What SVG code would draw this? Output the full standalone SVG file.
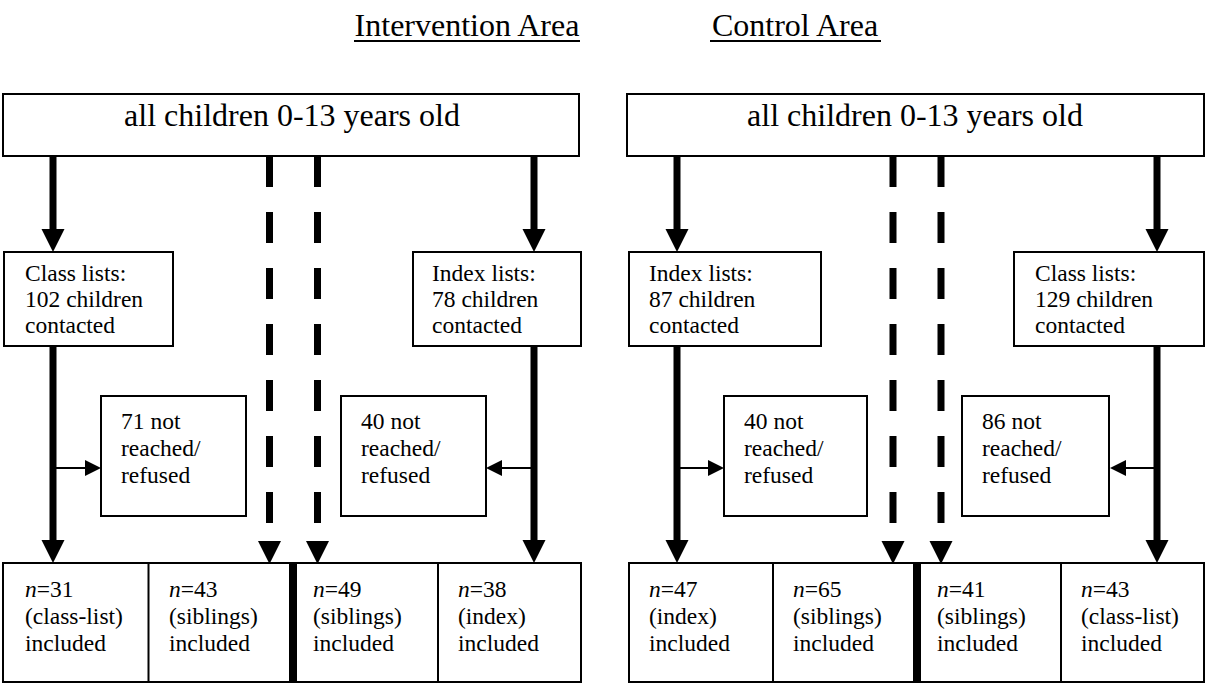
<svg xmlns="http://www.w3.org/2000/svg" width="1206" height="684" viewBox="0 0 1206 684" font-family="'Liberation Serif', 'Times New Roman', Times, serif">
<style>
text{fill:#000}
.h{font-size:32px}
.t{font-size:32px}
.s{font-size:23.5px}
.box{fill:#fff;stroke:#000;stroke-width:2}
.thick{stroke:#000;stroke-width:7;fill:none}
.dash{stroke:#000;stroke-width:7;fill:none;stroke-dasharray:31 25}
.thin{stroke:#000;stroke-width:2;fill:none}
</style>
<defs>
<marker id="big" markerUnits="userSpaceOnUse" markerWidth="24" markerHeight="24" refX="0" refY="11.5" orient="auto" viewBox="0 0 24 24"><path d="M0,0 L23,11.5 L0,23 z" fill="#000"/></marker>
<marker id="small" markerUnits="userSpaceOnUse" markerWidth="17" markerHeight="17" refX="0" refY="8" orient="auto" viewBox="0 0 17 17"><path d="M0,0 L16,8 L0,16 z" fill="#000"/></marker>
</defs>
<g id="headings">
<text class="h" x="467" y="36" text-anchor="middle">Intervention Area</text>
<line x1="354" y1="41" x2="580" y2="41" class="thin"/>
<text class="h" x="795" y="36" text-anchor="middle">Control Area</text>
<line x1="710" y1="41" x2="881" y2="41" class="thin"/>
</g>
<g id="connectors">
<line x1="53" y1="156" x2="53" y2="229" class="thick" marker-end="url(#big)"/>
<line x1="534" y1="156" x2="534" y2="229" class="thick" marker-end="url(#big)"/>
<line x1="269.5" y1="156" x2="269.5" y2="541" class="dash" marker-end="url(#big)"/>
<line x1="317.5" y1="156" x2="317.5" y2="541" class="dash" marker-end="url(#big)"/>
<line x1="53" y1="346" x2="53" y2="540" class="thick" marker-end="url(#big)"/>
<line x1="534" y1="346" x2="534" y2="540" class="thick" marker-end="url(#big)"/>
<line x1="56" y1="468" x2="85" y2="468" class="thin" marker-end="url(#small)"/>
<line x1="531" y1="468" x2="502" y2="468" class="thin" marker-end="url(#small)"/>
<line x1="677" y1="156" x2="677" y2="229" class="thick" marker-end="url(#big)"/>
<line x1="1157" y1="156" x2="1157" y2="229" class="thick" marker-end="url(#big)"/>
<line x1="893" y1="156" x2="893" y2="541" class="dash" marker-end="url(#big)"/>
<line x1="941" y1="156" x2="941" y2="541" class="dash" marker-end="url(#big)"/>
<line x1="677" y1="346" x2="677" y2="540" class="thick" marker-end="url(#big)"/>
<line x1="1157" y1="346" x2="1157" y2="540" class="thick" marker-end="url(#big)"/>
<line x1="680" y1="468" x2="708" y2="468" class="thin" marker-end="url(#small)"/>
<line x1="1154" y1="468" x2="1126" y2="468" class="thin" marker-end="url(#small)"/>
</g>
<g id="int-all">
<rect class="box" x="3" y="94" width="576" height="62"/>
<text class="t" x="292" y="126" text-anchor="middle">all children 0-13 years old</text>
</g>
<g id="int-class">
<rect class="box" x="4" y="252" width="169" height="94"/>
<text class="s" x="25" y="281">Class lists:</text>
<text class="s" x="25" y="307">102 children</text>
<text class="s" x="25" y="333">contacted</text>
</g>
<g id="int-index">
<rect class="box" x="413" y="252" width="168" height="94"/>
<text class="s" x="432" y="281">Index lists:</text>
<text class="s" x="432" y="307">78 children</text>
<text class="s" x="432" y="333">contacted</text>
</g>
<g id="int-class-lost">
<rect class="box" x="101" y="396" width="145" height="120"/>
<text class="s" x="121" y="429">71 not</text>
<text class="s" x="121" y="456">reached/</text>
<text class="s" x="121" y="483">refused</text>
</g>
<g id="int-index-lost">
<rect class="box" x="341" y="396" width="145" height="120"/>
<text class="s" x="361" y="429">40 not</text>
<text class="s" x="361" y="456">reached/</text>
<text class="s" x="361" y="483">refused</text>
</g>
<g id="int-included">
<rect class="box" x="3" y="563" width="578" height="119"/>
<line x1="148.5" y1="563" x2="148.5" y2="682" class="thin"/>
<rect x="289" y="563" width="8" height="119" fill="#000"/>
<line x1="438" y1="563" x2="438" y2="682" class="thin"/>
<text class="s" x="25" y="597"><tspan font-style="italic">n</tspan>=31</text>
<text class="s" x="25" y="624">(class-list)</text>
<text class="s" x="25" y="651">included</text>
<text class="s" x="169" y="597"><tspan font-style="italic">n</tspan>=43</text>
<text class="s" x="169" y="624">(siblings)</text>
<text class="s" x="169" y="651">included</text>
<text class="s" x="313" y="597"><tspan font-style="italic">n</tspan>=49</text>
<text class="s" x="313" y="624">(siblings)</text>
<text class="s" x="313" y="651">included</text>
<text class="s" x="458" y="597"><tspan font-style="italic">n</tspan>=38</text>
<text class="s" x="458" y="624">(index)</text>
<text class="s" x="458" y="651">included</text>
</g>
<g id="ctl-all">
<rect class="box" x="627" y="94" width="577" height="62"/>
<text class="t" x="915" y="126" text-anchor="middle">all children 0-13 years old</text>
</g>
<g id="ctl-index">
<rect class="box" x="629" y="252" width="192" height="94"/>
<text class="s" x="649" y="281">Index lists:</text>
<text class="s" x="649" y="307">87 children</text>
<text class="s" x="649" y="333">contacted</text>
</g>
<g id="ctl-class">
<rect class="box" x="1014" y="252" width="190" height="94"/>
<text class="s" x="1035" y="281">Class lists:</text>
<text class="s" x="1035" y="307">129 children</text>
<text class="s" x="1035" y="333">contacted</text>
</g>
<g id="ctl-index-lost">
<rect class="box" x="724" y="396" width="143" height="120"/>
<text class="s" x="744" y="429">40 not</text>
<text class="s" x="744" y="456">reached/</text>
<text class="s" x="744" y="483">refused</text>
</g>
<g id="ctl-class-lost">
<rect class="box" x="962" y="396" width="147" height="120"/>
<text class="s" x="982" y="429">86 not</text>
<text class="s" x="982" y="456">reached/</text>
<text class="s" x="982" y="483">refused</text>
</g>
<g id="ctl-included">
<rect class="box" x="629" y="563" width="575" height="119"/>
<line x1="773" y1="563" x2="773" y2="682" class="thin"/>
<rect x="913" y="563" width="8" height="119" fill="#000"/>
<line x1="1061" y1="563" x2="1061" y2="682" class="thin"/>
<text class="s" x="649" y="597"><tspan font-style="italic">n</tspan>=47</text>
<text class="s" x="649" y="624">(index)</text>
<text class="s" x="649" y="651">included</text>
<text class="s" x="793" y="597"><tspan font-style="italic">n</tspan>=65</text>
<text class="s" x="793" y="624">(siblings)</text>
<text class="s" x="793" y="651">included</text>
<text class="s" x="937" y="597"><tspan font-style="italic">n</tspan>=41</text>
<text class="s" x="937" y="624">(siblings)</text>
<text class="s" x="937" y="651">included</text>
<text class="s" x="1081" y="597"><tspan font-style="italic">n</tspan>=43</text>
<text class="s" x="1081" y="624">(class-list)</text>
<text class="s" x="1081" y="651">included</text>
</g>
</svg>
